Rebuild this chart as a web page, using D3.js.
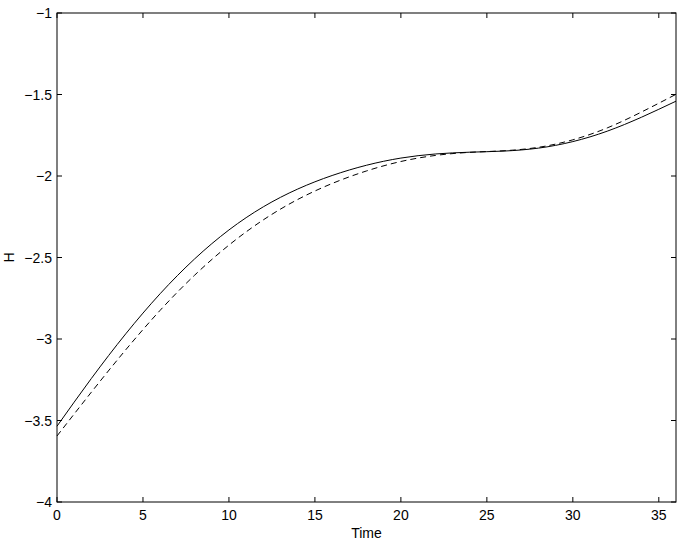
<!DOCTYPE html>
<html>
<head>
<meta charset="utf-8">
<script src="https://cdn.jsdelivr.net/npm/d3@7"></script>
<style>
  html, body { margin: 0; padding: 0; background: #fff; }
  svg { display: block; font-family: "Liberation Sans", Arial, Helvetica, sans-serif; }
</style>
</head>
<body>
<svg id="chart" width="682" height="542"></svg>
<script>
const time = [0, 2, 4, 6, 8, 10, 12, 14, 16, 18, 20, 22, 24, 26, 28, 30, 32, 34, 36];
const hSolid = [-3.535, -3.242, -2.968, -2.722, -2.509, -2.331, -2.189, -2.080, -1.997, -1.934, -1.890, -1.865, -1.854, -1.847, -1.829, -1.789, -1.725, -1.639, -1.541];
const hDashed = [-3.595, -3.326, -3.066, -2.824, -2.609, -2.424, -2.269, -2.144, -2.046, -1.969, -1.911, -1.874, -1.855, -1.845, -1.824, -1.778, -1.705, -1.607, -1.499];
const xTicks = [0, 5, 10, 15, 20, 25, 30, 35];
const yTicks = [-4, -3.5, -3, -2.5, -2, -1.5, -1];
const xLabel = "Time";
const yLabel = "H";

(function () {
const svg = d3.select("#chart");
const pL = 57, pR = 676, pT = 13, pB = 502;
const x = d3.scaleLinear().domain([0, 36]).range([pL, pR]);
const y = d3.scaleLinear().domain([-4, -1]).range([pB, pT]);
const fmt = v => String(v).replace("-", "\u2212");

svg.append("rect").attr("x", pL).attr("y", pT).attr("width", pR - pL).attr("height", pB - pT)
  .attr("fill", "none").attr("stroke", "#000").attr("stroke-width", 1);

const tl = 5;
const g = svg.append("g").attr("stroke", "#000").attr("stroke-width", 1);
xTicks.forEach(t => {
  g.append("line").attr("x1", x(t)).attr("x2", x(t)).attr("y1", pB).attr("y2", pB - tl);
  g.append("line").attr("x1", x(t)).attr("x2", x(t)).attr("y1", pT).attr("y2", pT + tl);
});
yTicks.forEach(t => {
  g.append("line").attr("y1", y(t)).attr("y2", y(t)).attr("x1", pL).attr("x2", pL + tl);
  g.append("line").attr("y1", y(t)).attr("y2", y(t)).attr("x1", pR).attr("x2", pR - tl);
});

svg.selectAll(".xt").data(xTicks).enter().append("text")
  .attr("x", d => x(d)).attr("y", pB + 18).attr("text-anchor", "middle")
  .attr("font-size", 14).text(d => fmt(d));
svg.selectAll(".yt").data(yTicks).enter().append("text")
  .attr("x", pL - 5).attr("y", d => y(d) + 5).attr("text-anchor", "end")
  .attr("font-size", 14).text(d => fmt(d));

svg.append("text").attr("x", (pL + pR) / 2).attr("y", 538).attr("text-anchor", "middle")
  .attr("font-size", 14).text(xLabel);
svg.append("text").attr("transform", `translate(14,${(pT + pB) / 2}) rotate(-90)`)
  .attr("text-anchor", "middle").attr("font-size", 14).text(yLabel);

const line = (vals) => d3.line().x((d, i) => x(time[i])).y(d => y(d)).curve(d3.curveNatural)(vals);
svg.append("path").attr("d", line(hSolid)).attr("fill", "none").attr("stroke", "#000").attr("stroke-width", 1);
svg.append("path").attr("d", line(hDashed)).attr("fill", "none").attr("stroke", "#000").attr("stroke-width", 1)
  .attr("stroke-dasharray", "6,4");
})();
</script>
</body>
</html>
